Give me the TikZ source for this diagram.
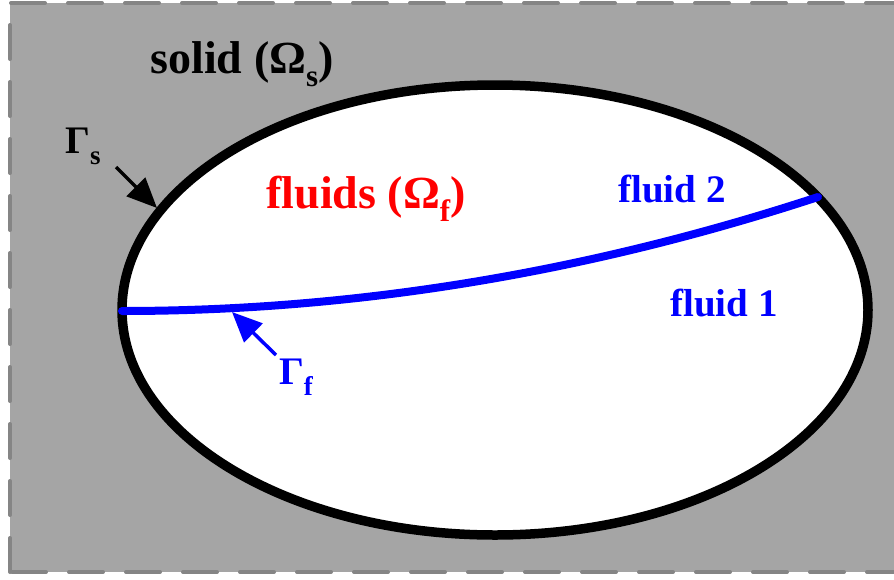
\documentclass[tikz,border=0pt]{standalone}
\usepackage{fontspec}
\setmainfont{Liberation Serif}
\usetikzlibrary{arrows.meta}
\definecolor{solidgray}{HTML}{A5A5A5}
\definecolor{dashgray}{HTML}{858585}
\newcommand\lowsub[1]{\raisebox{-0.28em}{\fontsize{0.67\fontdimen6\font}{10}\selectfont #1}}
\newcommand\subs[2]{\raisebox{-0.28em}{\fontsize{#1}{#1}\selectfont #2}}
\tikzset{
  lbl/.style={font=\fontsize{39}{42}\selectfont\bfseries, inner sep=0pt},
  biglbl/.style={font=\fontsize{46}{50}\selectfont\bfseries, inner sep=0pt},
  frameline/.style={draw=dashgray, line width=4pt, line cap=round, dash pattern=on 34pt off 23pt},
  ptr/.style={line width=3.5pt, -{Triangle[length=30pt,width=26pt]}}
}
\begin{document}
\begin{tikzpicture}[x=1pt,y=-1pt]
\useasboundingbox (0,0) rectangle (894,579);
% solid region
\fill[solidgray] (10,3) rectangle (894,572);
\draw[frameline] (10,572) -- (10,3) -- (894,3);
\draw[frameline] (12,572) -- (894,572);
% fluid domain
\filldraw[fill=white, draw=black, line width=9.5pt] (495,310) ellipse [x radius=373, y radius=225];
% fluid interface
\coordinate (fl) at (122,311);
\coordinate (fr) at (818,197);
\draw[blue, line width=8pt, line cap=round] (fl) .. controls (354,311) and (586,273) .. (fr);
% labels
\node[biglbl] (solid) at (242,64) {solid (Ω\subs{31}{s})};
\node[lbl] (gs) at (83,146) {Γ\subs{27}{s}};
\node[biglbl, red] (fluids) at (366,199) {fluids (Ω\subs{31}{f})};
\node[lbl, blue] (f2) at (672,189) {fluid 2};
\node[lbl, blue] (f1) at (724,303) {fluid 1};
\node[lbl, blue] (gf) at (296,377) {Γ\subs{27}{f}};
% pointers
\coordinate (gsA) at (116,167);
\coordinate (gsB) at (157,208);
\draw[ptr, black] (gsA) -- (gsB);
\coordinate (gfA) at (276,355);
\coordinate (gfB) at (232,312);
\draw[ptr, blue] (gfA) -- (gfB);
\end{tikzpicture}
\end{document}
